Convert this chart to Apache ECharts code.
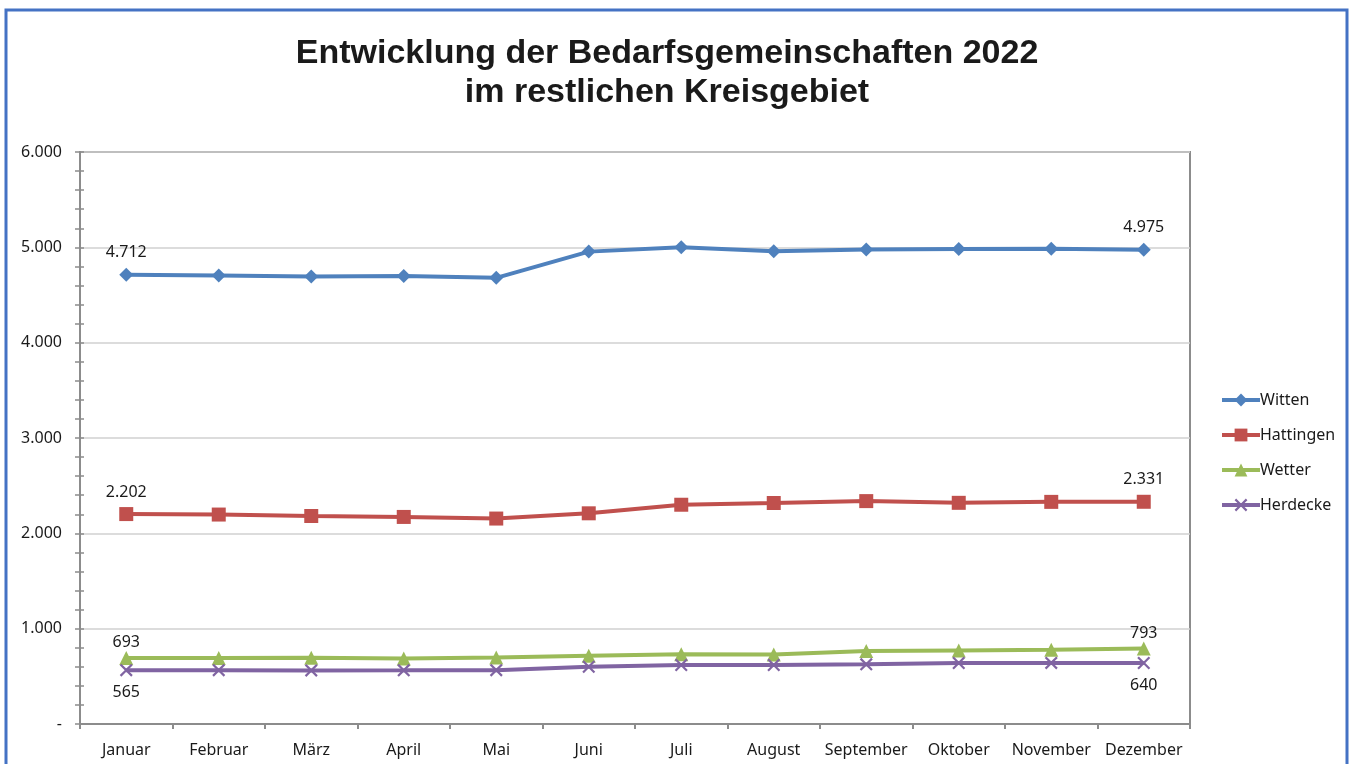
<!DOCTYPE html>
<html>
<head>
<meta charset="utf-8">
<script src="https://cdn.jsdelivr.net/npm/echarts@6/dist/echarts.min.js"></script>
<style>
html,body{margin:0;padding:0;background:#fff;}
#c{width:1354px;height:764px;}
</style>
</head>
<body>
<div id="c"></div>
<script>
const months = ['Januar','Februar','März','April','Mai','Juni','Juli','August','September','Oktober','November','Dezember'];
const witten    = [4712, 4705, 4695, 4700, 4680, 4955, 5000, 4960, 4978, 4982, 4984, 4975];
const hattingen = [2202, 2197, 2182, 2172, 2155, 2210, 2300, 2318, 2338, 2320, 2330, 2331];
const wetter    = [693, 693, 695, 688, 698, 715, 731, 729, 765, 771, 778, 793];
const herdecke  = [565, 565, 562, 563, 565, 600, 619, 619, 626, 640, 641, 640];
const yTicks = [0, 1000, 2000, 3000, 4000, 5000, 6000];

const fmt = v => v === 0 ? '-' : String(v).replace(/\B(?=(\d{3})+(?!\d))/g, '.');
const lblFont = {fontFamily:'Noto Sans', fontSize:16, color:'#1a1a1a'};
const xPath = 'path://M0,1.2L1.2,0L5,3.8L8.8,0L10,1.2L6.2,5L10,8.8L8.8,10L5,6.2L1.2,10L0,8.8L3.8,5Z';

function mk(name, vals, color, symbol, size, pos, dist) {
  return {
    name, type:'line', data: vals.map((v,i)=>({value:v, label:{show: i===0 || i===vals.length-1}})),
    symbol, symbolSize:size, showAllSymbol:true,
    lineStyle:{color, width:4},
    itemStyle:{color},
    label:{position:pos, distance:dist, formatter: p => fmt(p.value), ...lblFont},
    emphasis:{disabled:true}, animation:false, z:3
  };
}

const chart = echarts.init(document.getElementById('c'), null, {renderer:'canvas'});
chart.setOption({
  animation:false,
  backgroundColor:'#fff',
  title:{
    text:'Entwicklung der Bedarfsgemeinschaften 2022\nim restlichen Kreisgebiet',
    left:662, textAlign:'center', top:29,
    textStyle:{fontFamily:'Liberation Sans', fontWeight:'bold', fontSize:34, lineHeight:39, color:'#1a1a1a'}
  },
  graphic:[{type:'rect', shape:{x:6,y:10,width:1341,height:770}, style:{fill:'none', stroke:'#4472C4', lineWidth:3}, silent:true}],
  legend:{
    orient:'vertical', left:1215, top:387, itemGap:19, itemWidth:38, itemHeight:16,
    lineStyle:{width:4},
    textStyle:{fontFamily:'Noto Sans', fontSize:16, color:'#1a1a1a', padding:[0,0,0,-5]},
    data:['Witten','Hattingen','Wetter','Herdecke']
  },
  grid:{left:80, right:164, top:152, bottom:40, show:true, borderColor:'#8c8c8c', borderWidth:2, backgroundColor:'transparent'},
  xAxis:{
    type:'category', data:months, boundaryGap:true,
    axisLine:{lineStyle:{color:'#8c8c8c', width:2}},
    axisTick:{show:true, length:5, lineStyle:{color:'#8c8c8c', width:2}},
    axisLabel:{...lblFont, margin:18, interval:0}
  },
  yAxis:[{
    type:'value', min:0, max:6000, interval:1000,
    axisLine:{show:true, lineStyle:{color:'#8c8c8c', width:2}},
    axisTick:{show:true, length:5, lineStyle:{color:'#8c8c8c', width:1.5}},
    minorTick:{show:true, splitNumber:5, length:5, lineStyle:{color:'#8c8c8c', width:1.5}},
    splitLine:{show:true, lineStyle:{color:'#d0d0d0', width:1.5}},
    axisLabel:{...lblFont, margin:18, formatter: v => yTicks.includes(v) ? fmt(v) : ''}
  },{
    type:'value', min:0, max:6000, interval:1000, position:'left',
    axisLine:{show:false},
    axisTick:{show:true, inside:true, length:4, lineStyle:{color:'#8c8c8c', width:1.5}},
    minorTick:{show:true, splitNumber:5, length:4, lineStyle:{color:'#8c8c8c', width:1.5}},
    splitLine:{show:false}, axisLabel:{show:false}
  }],
  series:[
    mk('Witten', witten, '#4F81BD', 'diamond', 14, 'top', 7),
    mk('Hattingen', hattingen, '#C0504D', 'rect', 14, 'top', 7),
    mk('Wetter', wetter, '#9BBB59', 'triangle', 14, 'top', 0),
    mk('Herdecke', herdecke, '#8064A2', xPath, 13, 'bottom', 8)
  ]
});
</script>
</body>
</html>
